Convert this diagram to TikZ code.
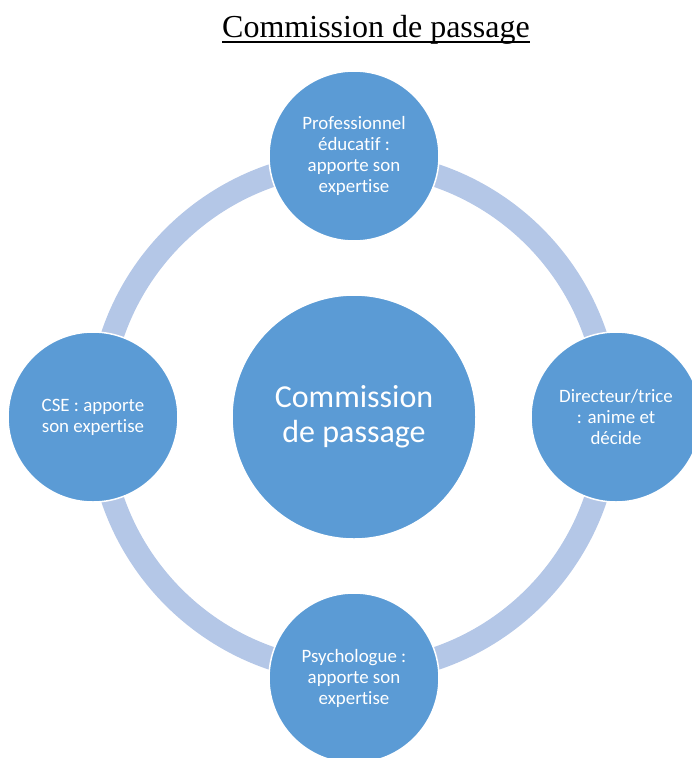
\documentclass[tikz,border=0pt]{standalone}
\usepackage{fontspec}
\setmainfont{Liberation Serif}
\newfontfamily\calib[Ligatures=NoCommon]{Carlito}
\definecolor{circblue}{HTML}{5B9BD5}
\definecolor{ringblue}{HTML}{B4C7E7}
\begin{document}
\begin{tikzpicture}[x=1pt,y=-1pt,
  outer/.style={circle,fill=circblue,draw=white,line width=1.5pt,minimum size=170pt,inner sep=0pt,
    text=white,align=center,font=\calib\fontsize{18.9}{21}\selectfont},
  inner/.style={circle,fill=circblue,draw=white,line width=1.5pt,minimum size=244pt,inner sep=0pt,
    text=white,align=center,font=\calib\fontsize{32}{35}\selectfont}]
\useasboundingbox (0,0) rectangle (692,758);
\node[anchor=base,inner sep=0pt,font=\fontsize{32}{36}\selectfont] (title) at (376,37) {Commission de passage};
\draw[line width=1.4pt] ([yshift=-5pt]title.base west) -- ([yshift=-5pt]title.base east);
\coordinate (c) at (354,417);
\draw[ringblue,line width=23pt] (c) circle[radius=255pt];
\node[inner] (center) at (c) {Commission\\de passage};
\node[outer] (top) at (354,156) {Professionnel\\éducatif :\\apporte son\\expertise};
\node[outer] (right) at (616,417) {Directeur/trice\\: anime et\\décide};
\node[outer] (bottom) at (354,678) {Psychologue :\\apporte son\\expertise};
\node[outer] (left) at (93,417) {CSE : apporte\\son expertise};
\end{tikzpicture}
\end{document}
